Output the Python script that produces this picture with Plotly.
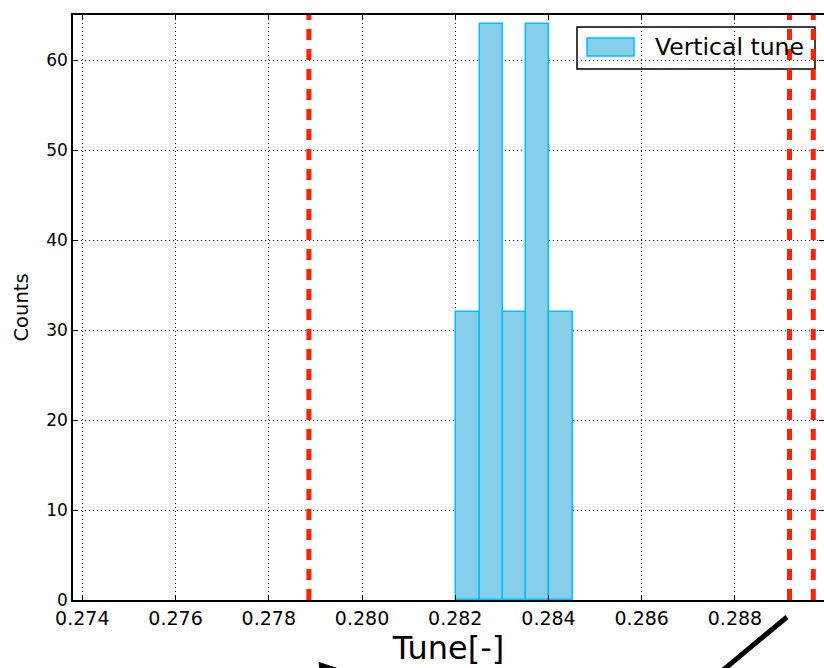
import plotly.graph_objects as go

# ---- data ----
bin_edges = [0.28202, 0.28252, 0.28302, 0.28352, 0.28402, 0.28453]
counts = [32, 64, 32, 64, 32]
tune_lines = [0.27886, 0.28917, 0.28968]
x_ticks = [0.274, 0.276, 0.278, 0.280, 0.282, 0.284, 0.286, 0.288]
y_ticks = [0, 10, 20, 30, 40, 50, 60]
legend_label = "Vertical tune"

x_range = [0.27380, 0.28991]
y_range = [0, 65]

centers = [(a + b) / 2 for a, b in zip(bin_edges[:-1], bin_edges[1:])]
widths = [b - a for a, b in zip(bin_edges[:-1], bin_edges[1:])]

FONT = "DejaVu Sans"
SKY = "#87CEEB"
DSKY = "#00BFFF"
RED = "#ff2200"

fig = go.Figure()
fig.add_trace(go.Bar(
    x=centers, y=counts, width=widths,
    marker=dict(color=SKY, line=dict(color=DSKY, width=1.5)),
    showlegend=False,
))
for v in tune_lines:
    fig.add_trace(go.Scatter(
        x=[v, v], y=y_range, mode="lines",
        line=dict(color=RED, width=5, dash="11px,9px"),
        showlegend=False, hoverinfo="skip",
    ))
# invisible trace to carry right-hand tick axis
fig.add_trace(go.Scatter(x=[], y=[], yaxis="y2", showlegend=False))

# plot-area pixel geometry for manual legend
L, T, R, B = 73, 15, 824, 600
W, H = R - L, B - T
def px(x):
    return (x - L) / W
def py(y):
    return (B - y) / H

shapes = [
    dict(type="rect", xref="paper", yref="paper", layer="between",
         x0=px(577), x1=px(815), y0=py(69), y1=py(27),
         fillcolor="white", line=dict(color="black", width=1.5)),
    dict(type="rect", xref="paper", yref="paper", layer="between",
         x0=px(587), x1=px(634), y0=py(56), y1=py(38),
         fillcolor=SKY, line=dict(color=DSKY, width=1.5)),
    # cut-off black decorations below the axis
    dict(type="line", xref="paper", yref="paper",
         x0=px(787), y0=py(617), x1=px(716), y1=py(676),
         line=dict(color="black", width=5)),
    dict(type="path", xref="paper", yref="paper",
         path=f"M {px(319)},{py(662.5)} L {px(339)},{py(669)} L {px(320)},{py(669)} Z",
         fillcolor="black", line=dict(color="black", width=1)),
]

annotations = [
    dict(xref="paper", yref="paper", x=px(653), y=py(47),
         xanchor="left", yanchor="middle", showarrow=False,
         text=legend_label, font=dict(family=FONT, size=23.5, color="black")),
]

fig.update_layout(
    width=824, height=668,
    margin=dict(l=L, r=824 - R, t=T, b=668 - B),
    paper_bgcolor="white", plot_bgcolor="white",
    font=dict(family=FONT, color="black"),
    bargap=0,
    showlegend=False,
    shapes=shapes,
    annotations=annotations,
    xaxis=dict(
        range=x_range, tickvals=x_ticks, tickformat=".3f",
        ticks="inside", ticklen=5, tickcolor="black",
        showline=True, linecolor="black", linewidth=1.5, mirror="ticks",
        showgrid=True, gridcolor="black", gridwidth=1, griddash="1px,3px",
        zeroline=False,
        tickfont=dict(family=FONT, size=19, color="black"),
        title=dict(text="Tune[-]", font=dict(family=FONT, size=32, color="black"), standoff=8),
    ),
    yaxis=dict(
        range=y_range, tickvals=y_ticks,
        ticks="inside", ticklen=5, tickcolor="black",
        showline=True, linecolor="black", linewidth=1.5, mirror=False,
        showgrid=True, gridcolor="black", gridwidth=1, griddash="1px,3px",
        zeroline=False,
        tickfont=dict(family=FONT, size=17, color="black"),
        title=dict(text="Counts", font=dict(family=FONT, size=19.5, color="black"), standoff=12),
    ),
    yaxis2=dict(
        range=y_range, tickvals=y_ticks, overlaying="y", side="right",
        ticks="inside", ticklen=5, tickcolor="black",
        showticklabels=False, showgrid=False, showline=False, zeroline=False,
    ),
)

fig.write_html("out.html")
